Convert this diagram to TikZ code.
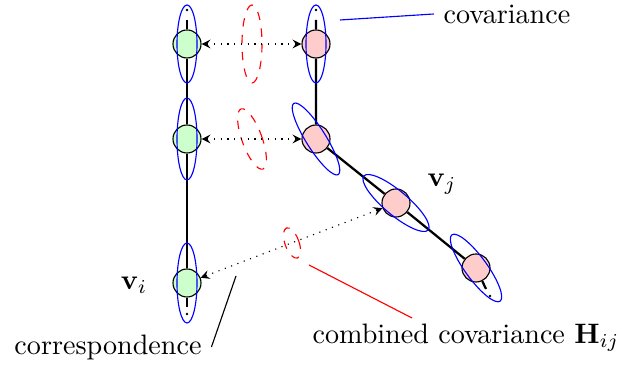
\documentclass[tikz,border=0pt]{standalone}
\begin{document}
\begin{tikzpicture}[>=stealth, x=0.0125cm, y=-0.0125cm,
    pose/.style={circle, draw, minimum size=0.35cm, inner sep=0pt},
    posei/.style={pose, fill=green!20},
    posej/.style={pose, fill=red!20},
    covar/.style={blue},
    combcov/.style={red, dashed},
    corr/.style={<->, dotted},
    chain/.style={line width=0.8pt}]
    \useasboundingbox (0,0) rectangle (624,365);

    % frame i
    \node[posei] (i1) at (187,44) {};
    \node[posei] (i2) at (187,139) {};
    \node[posei] (i3) at (187,283) {};
    \coordinate (i0) at (187,20);
    \coordinate (i4) at (187,307);
    \coordinate (itop) at (187,10);
    \coordinate (ibot) at (187,314);
    \draw[chain] (i0) -- (i1) -- (i2) -- (i3) -- (i4);
    \fill (itop) circle (1.3);
    \fill (ibot) circle (1.3);

    % frame j
    \node[posej] (j1) at (316,44) {};
    \node[posej] (j2) at (316,139) {};
    \node[posej] (j3) at (396,203) {};
    \node[posej] (j4) at (476,268) {};
    \coordinate (j0) at (316,20);
    \coordinate (j5) at (486,289);
    \coordinate (jtop) at (316,10);
    \coordinate (jbot) at (490,296);
    \draw[chain] (j0) -- (j1) -- (j2) -- (j3) -- (j4) -- (j5);
    \fill (jtop) circle (1.3);
    \fill (jbot) circle (1.3);

    % covariances
    \draw[covar] (i1) ellipse (10 and 39);
    \draw[covar] (i2) ellipse (10 and 41);
    \draw[covar] (i3) ellipse (10 and 40);
    \draw[covar] (j1) ellipse (10 and 39);
    \draw[covar, rotate around={32:(j2)}] (j2) ellipse (10 and 42);
    \draw[covar, rotate around={50:(j3)}] (j3) ellipse (12 and 42);
    \draw[covar, rotate around={36:(j4)}] (j4) ellipse (11 and 41);

    % correspondences
    \coordinate (c1) at (252,44);
    \coordinate (c2) at (252,139);
    \coordinate (c3) at (292,243);
    \draw[combcov] (c1) ellipse (10 and 39);
    \draw[combcov, rotate around={20:(c2)}] (c2) ellipse (10 and 32);
    \draw[combcov, rotate around={20:(c3)}] (c3) ellipse (7 and 16);
    \draw[corr] (i1) -- (j1);
    \draw[corr] (i2) -- (j2);
    \draw[corr] (i3) -- (j3);

    % labels
    \node (vi) at (134,285) {$\mathbf{v}_i$};
    \node (vj) at (442,184) {$\mathbf{v}_j$};
    \node (covlabel) at (507,14) {covariance};
    \node (corrlabel) at (108,347) {correspondence};
    \node (cclabel) at (466,338) {combined covariance $\mathbf{H}_{ij}$};
    \coordinate (covend) at (340,20);
    \coordinate (corrend) at (236,276);
    \coordinate (ccend) at (309,265);
    \coordinate (ccstart) at (412,318);
    \draw[blue] (covend) -- (covlabel.west);
    \draw (corrlabel.east) -- (corrend);
    \draw[red] (ccstart) -- (ccend);
\end{tikzpicture}
\end{document}
